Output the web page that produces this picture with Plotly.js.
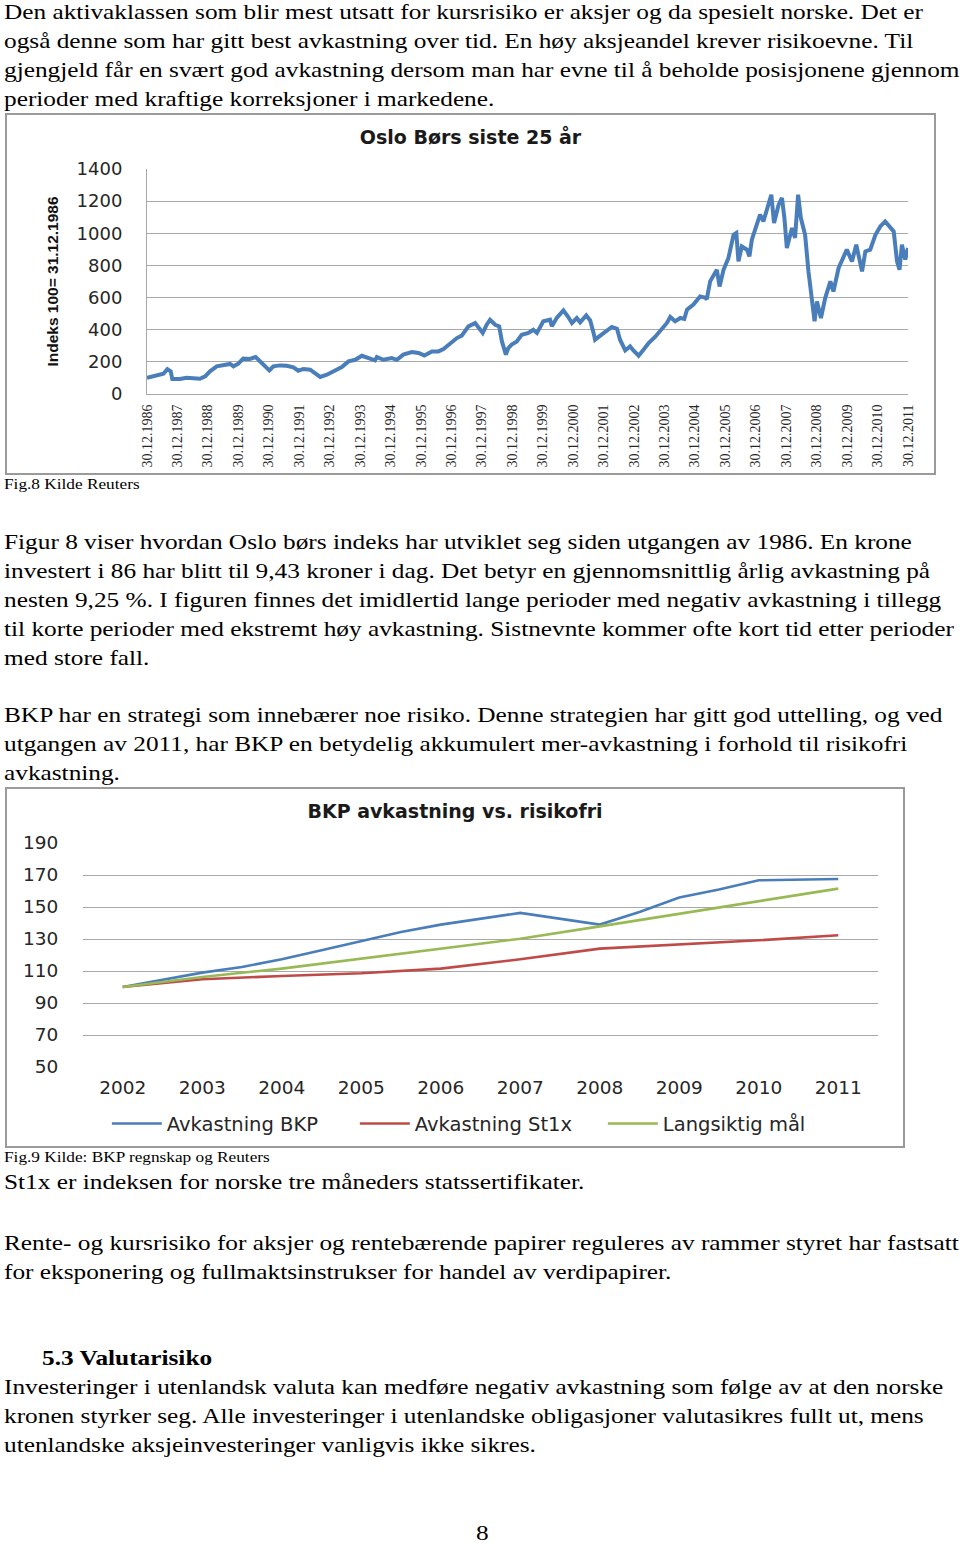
<!DOCTYPE html>
<html><head><meta charset="utf-8">
<script src="https://cdn.plot.ly/plotly-3.0.1.min.js"></script>
<style>
body{margin:0;background:#fff;width:960px;height:1543px;position:relative;overflow:hidden;font-family:"Liberation Serif","Times New Roman",serif;color:#000}
.ln{position:absolute;white-space:nowrap;line-height:1;transform-origin:0 0}
.box{position:absolute;border:2px solid #9a9a9a;box-sizing:border-box;pointer-events:none}
.plot{position:absolute}
</style></head><body>
<div id="chart1" class="plot" style="left:5px;top:113px;width:931px;height:362px"></div>
<div class="box" style="left:5px;top:113px;width:931px;height:362px"></div>
<div id="chart2" class="plot" style="left:5px;top:787px;width:900px;height:361px"></div>
<div class="box" style="left:5px;top:787px;width:900px;height:361px"></div>
<div id="text"></div>
<script>
// ---------- Chart 1: Oslo Børs siste 25 år (index 100 = 31.12.1986) ----------
const osloYears = [1987.00,1987.32,1987.54,1987.67,1987.78,1987.83,1988.08,1988.30,1988.52,1988.74,
 1988.91,1989.07,1989.29,1989.56,1989.73,1989.84,1990.00,1990.16,1990.38,1990.57,
 1990.69,1990.88,1991.02,1991.15,1991.37,1991.59,1991.81,1991.97,1992.14,1992.36,
 1992.52,1992.69,1992.91,1993.12,1993.40,1993.62,1993.84,1994.06,1994.27,1994.49,
 1994.55,1994.77,1995.04,1995.21,1995.42,1995.70,1995.92,1996.11,1996.36,1996.57,
 1996.74,1996.96,1997.18,1997.34,1997.56,1997.78,1997.91,1998.03,1998.16,1998.27,
 1998.44,1998.57,1998.66,1998.71,1998.79,1998.87,1998.98,1999.15,1999.31,1999.53,
 1999.69,1999.81,2000.02,2000.24,2000.30,2000.46,2000.68,2000.84,2000.96,2001.12,
 2001.23,2001.43,2001.56,2001.67,2001.72,2001.89,2002.05,2002.27,2002.44,2002.54,
 2002.71,2002.87,2002.98,2003.15,2003.31,2003.48,2003.69,2003.86,2004.08,2004.19,
 2004.35,2004.52,2004.65,2004.74,2004.95,2005.17,2005.33,2005.39,2005.50,2005.72,
 2005.81,2005.94,2006.10,2006.27,2006.36,2006.43,2006.54,2006.71,2006.79,2006.87,
 2007.04,2007.14,2007.25,2007.42,2007.51,2007.60,2007.75,2007.86,2007.94,2008.02,
 2008.19,2008.29,2008.39,2008.48,2008.62,2008.73,2008.84,2008.93,2009.01,2009.14,
 2009.28,2009.45,2009.55,2009.72,2009.99,2010.16,2010.30,2010.49,2010.60,2010.76,
 2010.93,2011.09,2011.25,2011.42,2011.53,2011.64,2011.72,2011.80,2011.91,2012.00];
const osloIndex = [100,114,126,155,141,93,93,101,97,95,
 110,141,172,178,187,172,189,220,218,230,
 209,172,147,172,178,176,166,145,156,151,
 131,106,120,141,168,203,213,238,224,209,
 230,213,224,213,245,261,255,240,265,265,
 280,317,348,363,421,442,411,380,431,462,
 431,421,327,286,245,286,307,327,369,380,
 400,380,452,462,421,473,520,479,442,473,
 446,489,458,380,338,363,383,417,406,338,
 271,296,271,238,276,317,355,390,442,479,
 452,473,467,525,556,607,600,590,701,773,
 669,773,846,991,1002,825,918,898,856,960,
 1053,1116,1074,1178,1240,1064,1178,1220,1095,908,
 1033,971,1240,1095,991,763,576,452,576,473,
 597,701,638,784,898,825,929,763,887,898,
 991,1043,1074,1033,1012,825,773,929,836,908];
const osloTickLabels = ['30.12.1986','30.12.1987','30.12.1988','30.12.1989','30.12.1990','30.12.1991',
 '30.12.1992','30.12.1993','30.12.1994','30.12.1995','30.12.1996','30.12.1997','30.12.1998',
 '30.12.1999','30.12.2000','30.12.2001','30.12.2002','30.12.2003','30.12.2004','30.12.2005',
 '30.12.2006','30.12.2007','30.12.2008','30.12.2009','30.12.2010','30.12.2011'];
const osloTickPos = [1987,1988,1989,1990,1991,1992,1993,1994,1995,1996,1997,1998,1999,
 2000,2001,2002,2003,2004,2005,2006,2007,2008,2009,2010,2011,2012];

// ---------- Chart 2: BKP avkastning vs. risikofri ----------
const bkpYears = [2002,2002.5,2003,2003.5,2004,2004.5,2005,2005.5,2006,2006.5,2007,2008,2008.5,2009,2009.5,2010,2011];
const bkpReturn = [100,104.6,109,112.5,117.3,123,128.6,134.4,139,142.7,146.3,139,146.9,155.9,161,166.7,167.5];
const refYears = [2002,2003,2004,2005,2006,2007,2008,2009,2010,2011];
const st1xReturn = [100,104.8,106.9,108.6,111.5,117.3,124,126.5,129.2,132.3];
const goalReturn = [100,106.3,111.5,117.8,124,130.2,137.9,145.9,153.6,161.5];
const bkpTickLabels = ['2002','2003','2004','2005','2006','2007','2008','2009','2010','2011'];
const seriesNames = ['Avkastning BKP','Avkastning St1x','Langsiktig mål'];

const serif = '"Liberation Serif","Times New Roman",serif';
const sansB = '"Liberation Sans",Arial,sans-serif';
const sans = '"DejaVu Sans",Verdana,sans-serif';
const grid = '#a8a8a8';
const tickCol = '#262626';

Plotly.newPlot('chart1', [{
  x: osloYears, y: osloIndex, type: 'scatter', mode: 'lines',
  line: {color: '#4A7EBB', width: 4}, hoverinfo: 'skip'
}], {
  width: 931, height: 362,
  margin: {l: 142, r: 28, t: 56, b: 81, autoexpand: false},
  paper_bgcolor: '#fff', plot_bgcolor: '#fff',
  showlegend: false,
  title: {text: 'Oslo Børs siste 25 år', font: {family: sans, size: 19, color: '#1a1a1a', weight: 'bold'},
          x: 0.5, xanchor: 'center', xref: 'container', y: 1 - 24/362, yanchor: 'middle', yref: 'container'},
  xaxis: {range: [1987, 2012], tickmode: 'array', tickvals: osloTickPos, ticktext: osloTickLabels,
          tickangle: -90, tickfont: {family: serif, size: 14, color: tickCol},
          showgrid: false, zeroline: false, showline: true, linecolor: grid, linewidth: 1,
          ticks: 'outside', ticklen: 4, tickcolor: 'rgba(0,0,0,0)'},
  yaxis: {range: [0, 1400], tick0: 0, dtick: 200, gridcolor: grid, gridwidth: 1,
          showline: true, linecolor: grid, linewidth: 1, zeroline: false,
          ticks: 'outside', ticklen: 20, tickcolor: 'rgba(0,0,0,0)',
          tickfont: {family: sans, size: 18, color: tickCol},
          title: {text: 'Indeks 100= 31.12.1986', font: {family: sansB, size: 15.5, color: '#111', weight: 'bold'}, standoff: 14}}
}, {staticPlot: true, displayModeBar: false});

const c2colors = ['#4A7EBB', '#BE4B48', '#98B954'];
Plotly.newPlot('chart2', [
  {x: bkpYears, y: bkpReturn, name: seriesNames[0], type: 'scatter', mode: 'lines', line: {color: c2colors[0], width: 2.6}},
  {x: refYears, y: st1xReturn, name: seriesNames[1], type: 'scatter', mode: 'lines', line: {color: c2colors[1], width: 2.6}},
  {x: refYears, y: goalReturn, name: seriesNames[2], type: 'scatter', mode: 'lines', line: {color: c2colors[2], width: 2.6}}
], {
  width: 900, height: 361,
  margin: {l: 78, r: 27, t: 56, b: 81, autoexpand: false},
  paper_bgcolor: '#fff', plot_bgcolor: '#fff',
  title: {text: 'BKP avkastning vs. risikofri', font: {family: sans, size: 19, color: '#1a1a1a', weight: 'bold'},
          x: 0.5, xanchor: 'center', xref: 'container', y: 1 - 24.7/361, yanchor: 'middle', yref: 'container'},
  xaxis: {range: [2001.5, 2011.5], tickmode: 'array', tickvals: refYears, ticktext: bkpTickLabels,
          showgrid: false, zeroline: false, showline: false,
          ticks: 'outside', ticklen: 4, tickcolor: 'rgba(0,0,0,0)',
          tickfont: {family: sans, size: 18.5, color: tickCol}},
  yaxis: {range: [50, 190], tick0: 50, dtick: 20, gridcolor: grid, gridwidth: 1,
          zeroline: false, showline: false,
          ticks: 'outside', ticklen: 20, tickcolor: 'rgba(0,0,0,0)',
          tickfont: {family: sans, size: 18.5, color: tickCol}},
  showlegend: true,
  legend: {orientation: 'h', x: 0.03, xanchor: 'left', y: -0.254, yanchor: 'middle',
           font: {family: sans, size: 19.5, color: tickCol},
           entrywidth: 183, entrywidthmode: 'pixels', itemwidth: 50, bgcolor: 'rgba(0,0,0,0)'}
}, {staticPlot: true, displayModeBar: false});

// ---------- Page text ----------
const SX = 1.15;
const textLines = [
  [4, 19.5, 22, false, 'Den aktivaklassen som blir mest utsatt for kursrisiko er aksjer og da spesielt norske. Det er'],
  [4, 48.5, 22, false, 'også denne som har gitt best avkastning over tid. En høy aksjeandel krever risikoevne. Til'],
  [4, 77.5, 22, false, 'gjengjeld får en svært god avkastning dersom man har evne til å beholde posisjonene gjennom'],
  [4, 106.5, 22, false, 'perioder med kraftige korreksjoner i markedene.'],
  [4, 490, 15, false, 'Fig.8 Kilde Reuters'],
  [4, 549, 22, false, 'Figur 8 viser hvordan Oslo børs indeks har utviklet seg siden utgangen av 1986. En krone'],
  [4, 578, 22, false, 'investert i 86 har blitt til 9,43 kroner i dag. Det betyr en gjennomsnittlig årlig avkastning på'],
  [4, 607, 22, false, 'nesten 9,25 %. I figuren finnes det imidlertid lange perioder med negativ avkastning i tillegg'],
  [4, 636, 22, false, 'til korte perioder med ekstremt høy avkastning. Sistnevnte kommer ofte kort tid etter perioder'],
  [4, 665, 22, false, 'med store fall.'],
  [4, 722, 22, false, 'BKP har en strategi som innebærer noe risiko. Denne strategien har gitt god uttelling, og ved'],
  [4, 751, 22, false, 'utgangen av 2011, har BKP en betydelig akkumulert mer-avkastning i forhold til risikofri'],
  [4, 780, 22, false, 'avkastning.'],
  [4, 1163, 15, false, 'Fig.9 Kilde: BKP regnskap og Reuters'],
  [4, 1189, 22, false, 'St1x er indeksen for norske tre måneders statssertifikater.'],
  [4, 1250, 22, false, 'Rente- og kursrisiko for aksjer og rentebærende papirer reguleres av rammer styret har fastsatt'],
  [4, 1279, 22, false, 'for eksponering og fullmaktsinstrukser for handel av verdipapirer.'],
  [42, 1365, 22, true, '5.3 Valutarisiko'],
  [4, 1394, 22, false, 'Investeringer i utenlandsk valuta kan medføre negativ avkastning som følge av at den norske'],
  [4, 1423, 22, false, 'kronen styrker seg. Alle investeringer i utenlandske obligasjoner valutasikres fullt ut, mens'],
  [4, 1452, 22, false, 'utenlandske aksjeinvesteringer vanligvis ikke sikres.'],
  [476, 1540, 22, false, '8']
];
const host = document.getElementById('text');
textLines.forEach(([x, base, size, bold, txt]) => {
  const d = document.createElement('div');
  d.className = 'ln';
  d.textContent = txt;
  d.style.left = x + 'px';
  d.style.top = (base - 0.8375 * size) + 'px';
  d.style.fontSize = size + 'px';
  if (bold) d.style.fontWeight = 'bold';
  d.style.transform = 'scaleX(' + SX + ')';
  host.appendChild(d);
});
</script>
</body></html>
